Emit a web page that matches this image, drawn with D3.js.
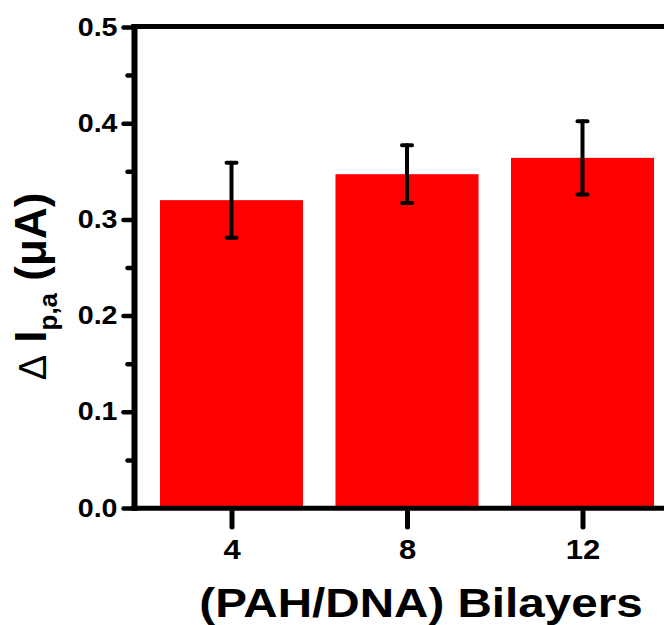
<!DOCTYPE html>
<html>
<head>
<meta charset="utf-8">
<script src="https://cdn.jsdelivr.net/npm/d3@7"></script>
<style>
  body { margin: 0; background: #fff; }
  svg { display: block; font-family: "Liberation Sans", Arial, sans-serif; }
</style>
</head>
<body>
<svg width="664" height="625"></svg>
<script>
// data
const layers = [4, 8, 12];
const current = [0.320, 0.347, 0.364];
const errors = [0.039, 0.030, 0.038];
const yTicks = [0, 0.1, 0.2, 0.3, 0.4, 0.5];
const yMinor = [0.05, 0.15, 0.25, 0.35, 0.45];

const svg = d3.select("svg");

const x = d3.scaleLinear()
    .domain([4, 12])
    .range([231.5, 582.5]);

const y = d3.scaleLinear()
    .domain([0, 0.5])
    .range([508, 27]);

const barW = 0.815 * (x(8) - x(4));

// bars
svg.selectAll(".bar")
    .data(layers)
    .enter().append("rect")
    .attr("class", "bar")
    .attr("x", d => x(d) - barW / 2)
    .attr("width", barW)
    .attr("y", (d, i) => y(current[i]))
    .attr("height", (d, i) => y(0) - y(current[i]))
    .attr("fill", "#ff0000");

// error bars
const err = svg.selectAll(".err")
    .data(layers)
    .enter().append("g")
    .attr("class", "err")
    .attr("stroke", "#000")
    .attr("stroke-linecap", "round");

err.append("line")
    .attr("x1", d => x(d)).attr("x2", d => x(d))
    .attr("y1", (d, i) => y(current[i] + errors[i]))
    .attr("y2", (d, i) => y(current[i] - errors[i]))
    .attr("stroke-width", 4);

[1, -1].forEach(s => {
    err.append("line")
        .attr("x1", d => x(d) - 5).attr("x2", d => x(d) + 5)
        .attr("y1", (d, i) => y(current[i] + s * errors[i]))
        .attr("y2", (d, i) => y(current[i] + s * errors[i]))
        .attr("stroke-width", 4);
});

// y axis
const yAxis = svg.append("g")
    .attr("transform", "translate(131.5,0)")
    .call(d3.axisLeft(y).tickValues(yTicks).tickSize(8).tickFormat(d3.format(".1f")));

yAxis.select(".domain").remove();
yAxis.selectAll(".tick line")
    .attr("stroke-width", 4.5)
    .attr("stroke-linecap", "round");
yAxis.selectAll(".tick text")
    .attr("x", 0)
    .attr("dy", null)
    .attr("y", 8)
    .attr("text-anchor", "end")
    .attr("transform", "translate(-14,0) scale(1.1,1)")
    .attr("font-size", 26)
    .attr("font-weight", "bold")
    .attr("font-family", "Liberation Sans, Arial, sans-serif")
    .attr("fill", "#000");

const yMinorAxis = svg.append("g")
    .attr("transform", "translate(131.5,0)")
    .call(d3.axisLeft(y).tickValues(yMinor).tickSize(4).tickFormat(""));
yMinorAxis.select(".domain").remove();
yMinorAxis.selectAll(".tick line")
    .attr("stroke-width", 4.5)
    .attr("stroke-linecap", "round");

// x axis
const xAxis = svg.append("g")
    .attr("transform", "translate(0,511)")
    .call(d3.axisBottom(x).tickValues(layers).tickSize(16).tickFormat(d3.format("d")));

xAxis.select(".domain").remove();
xAxis.selectAll(".tick line")
    .attr("stroke-width", 5)
    .attr("stroke-linecap", "round");
xAxis.selectAll(".tick text")
    .attr("y", 0)
    .attr("dy", null)
    .attr("transform", "translate(0,48) scale(1.15,1)")
    .attr("font-size", 27)
    .attr("font-weight", "bold")
    .attr("font-family", "Liberation Sans, Arial, sans-serif")
    .attr("fill", "#000");

// frame lines
svg.append("line")
    .attr("x1", 134.5).attr("x2", 134.5)
    .attr("y1", 24).attr("y2", 511)
    .attr("stroke", "#000").attr("stroke-width", 6);
svg.append("line")
    .attr("x1", 131.5).attr("x2", 664)
    .attr("y1", 508.3).attr("y2", 508.3)
    .attr("stroke", "#000").attr("stroke-width", 5);
svg.append("line")
    .attr("x1", 131.5).attr("x2", 664)
    .attr("y1", 26.5).attr("y2", 26.5)
    .attr("stroke", "#000").attr("stroke-width", 5);

// axis titles
svg.append("text")
    .attr("transform", "translate(421,617) scale(1.19,1)")
    .attr("text-anchor", "middle")
    .attr("font-size", 40)
    .attr("font-weight", "bold")
    .text("(PAH/DNA) Bilayers");

const yl = svg.append("text")
    .attr("transform", "translate(46,286.5) rotate(-90)")
    .attr("text-anchor", "middle")
    .attr("font-size", 44)
    .attr("font-weight", "bold");
yl.append("tspan").attr("font-weight", "normal").attr("font-size", 38).text("\u0394");
yl.append("tspan").text(" I");
yl.append("tspan").attr("font-size", 26).attr("dy", 11).text("p,a");
yl.append("tspan").attr("dy", -11).text(" (\u03bcA)");
</script>
</body>
</html>
